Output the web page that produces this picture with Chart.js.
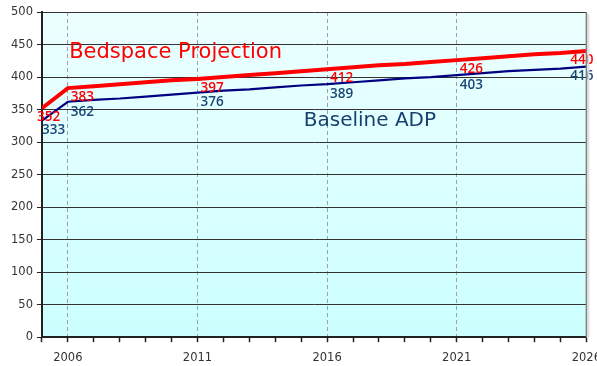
<!DOCTYPE html>
<html>
<head>
<meta charset="utf-8">
<script src="https://cdn.jsdelivr.net/npm/chart.js@4/dist/chart.umd.min.js"></script>
<style>
    html, body { margin: 0; padding: 0; background: #ffffff; overflow: hidden; }
    #wrap { width: 610px; height: 366px; position: relative; }
</style>
</head>
<body>
<div id="wrap"><canvas id="bedChart"></canvas></div>
<script>
const years = [2005, 2006, 2007, 2008, 2009, 2010, 2011, 2012, 2013, 2014, 2015,
    2016, 2017, 2018, 2019, 2020, 2021, 2022, 2023, 2024, 2025, 2026];
const bedspace = [352, 383, 386, 389, 392, 395, 397, 400, 403, 406, 409,
    412, 415, 418, 420, 423, 426, 429, 432, 435, 437, 440];
const baseline = [333, 362, 365, 367, 370, 373, 376, 379, 381, 384, 387,
    389, 392, 395, 398, 400, 403, 406, 409, 411, 413, 416];
const labelYears = [2005, 2006, 2011, 2016, 2021, 2026];
const yTicks = [0, 50, 100, 150, 200, 250, 300, 350, 400, 450, 500];

// plot background gradient + right border
const plotBackground = {
    id: 'plotBackground',
    beforeDraw(chart) {
        const { ctx, chartArea: a } = chart;
        const g = ctx.createLinearGradient(0, a.top, 0, a.bottom);
        g.addColorStop(0, '#ecffff');
        g.addColorStop(1, '#ccffff');
        ctx.save();
        ctx.fillStyle = g;
        ctx.fillRect(a.left, a.top, a.right - a.left, a.bottom - a.top);
        ctx.restore();
    },
    afterDraw(chart) {
        const { ctx, chartArea: a } = chart;
        ctx.save();
        ctx.strokeStyle = '#dddddd';
        ctx.lineWidth = 2;
        ctx.beginPath();
        ctx.moveTo(a.right + 2, a.top + 2);
        ctx.lineTo(a.right + 2, a.bottom);
        ctx.stroke();
        ctx.strokeStyle = '#808080';
        ctx.lineWidth = 1.5;
        ctx.beginPath();
        ctx.moveTo(a.right, a.top);
        ctx.lineTo(a.right, a.bottom);
        ctx.stroke();
        ctx.restore();
    }
};

// value labels and series names
const seriesText = {
    id: 'seriesText',
    afterDatasetsDraw(chart) {
        const { ctx, chartArea: a } = chart;
        const xs = chart.scales.x, ys = chart.scales.y;
        ctx.save();
        ctx.font = "600 13.5px 'Open Sans'";
        ctx.textBaseline = 'middle';
        chart.data.datasets.forEach((ds, di) => {
            const meta = chart.getDatasetMeta(di);
            const dy = di === 0 ? 9 : 10;
            ctx.fillStyle = ds.labelColor;
            ds.data.forEach((p, i) => {
                if (!labelYears.includes(p.x)) return;
                const el = meta.data[i];
                const txt = String(p.y);
                const w = ctx.measureText(txt).width;
                let x = el.x + 3;
                if (x + w > a.right + 7) x = a.right + 7 - w;
                if (di === 0 && i === 0) x = el.x - 5;
                if (di === 1 && i === 0) x = el.x;
                ctx.textAlign = 'left';
                ctx.fillText(txt, x, el.y + dy);
            });
        });
        ctx.font = "21px 'DejaVu Sans'";
        ctx.textBaseline = 'alphabetic';
        ctx.textAlign = 'left';
        ctx.fillStyle = '#ff0000';
        ctx.fillText('Bedspace Projection', xs.getPixelForValue(2006.05), ys.getPixelForValue(429));
        ctx.font = "20px 'DejaVu Sans'";
        ctx.fillStyle = '#17406e';
        ctx.fillText('Baseline ADP', xs.getPixelForValue(2015.1), ys.getPixelForValue(324));
        ctx.restore();
    }
};

const ctx = document.getElementById('bedChart').getContext('2d');
const bedChart = new Chart(ctx, {
    type: 'line',
    data: {
        datasets: [{
            label: 'Bedspace Projection',
            data: years.map((y, i) => ({ x: y, y: bedspace[i] })),
            borderColor: '#ff0000',
            borderWidth: 4,
            labelColor: '#ff0000',
            pointRadius: 0,
            tension: 0
        }, {
            label: 'Baseline ADP',
            data: years.map((y, i) => ({ x: y, y: baseline[i] })),
            borderColor: '#000080',
            borderWidth: 2.2,
            labelColor: '#1b4777',
            pointRadius: 0,
            tension: 0
        }]
    },
    options: {
        responsive: true,
        maintainAspectRatio: false,
        animation: false,
        layout: { padding: { top: 12, left: 7, right: 0, bottom: -8 } },
        plugins: {
            legend: { display: false },
            tooltip: { enabled: false }
        },
        scales: {
            x: {
                type: 'linear',
                min: 2005,
                max: 2026,
                afterBuildTicks: function (axis) {
                    axis.ticks = years.map(v => ({ value: v }));
                },
                ticks: {
                    autoSkip: false,
                    maxRotation: 0,
                    padding: 9,
                    color: '#333333',
                    font: { family: 'DejaVu Sans', size: 11.5 },
                    callback: function (value) {
                        return (value - 2006) % 5 === 0 ? String(value) : '';
                    }
                },
                grid: {
                    color: function (c) {
                        const v = c.tick ? c.tick.value : 0;
                        return ((v - 2006) % 5 === 0 && v < 2026) ? '#a0a0a0' : 'rgba(0,0,0,0)';
                    },
                    lineWidth: 1,
                    tickLength: 5,
                    tickColor: '#222222',
                    tickBorderDash: [],
                    tickWidth: 1.5
                },
                border: { display: true, color: '#222222', width: 2, dash: [4, 3] }
            },
            y: {
                min: 0,
                max: 500,
                afterBuildTicks: function (axis) {
                    axis.ticks = yTicks.map(v => ({ value: v }));
                },
                ticks: {
                    padding: 4,
                    color: '#333333',
                    font: { family: 'DejaVu Sans', size: 11.5 }
                },
                grid: {
                    color: '#333333',
                    lineWidth: 1,
                    tickLength: 5,
                    tickColor: '#222222'
                },
                border: { display: true, color: '#222222', width: 2 }
            }
        }
    },
    plugins: [plotBackground, seriesText]
});
</script>
</body>
</html>
